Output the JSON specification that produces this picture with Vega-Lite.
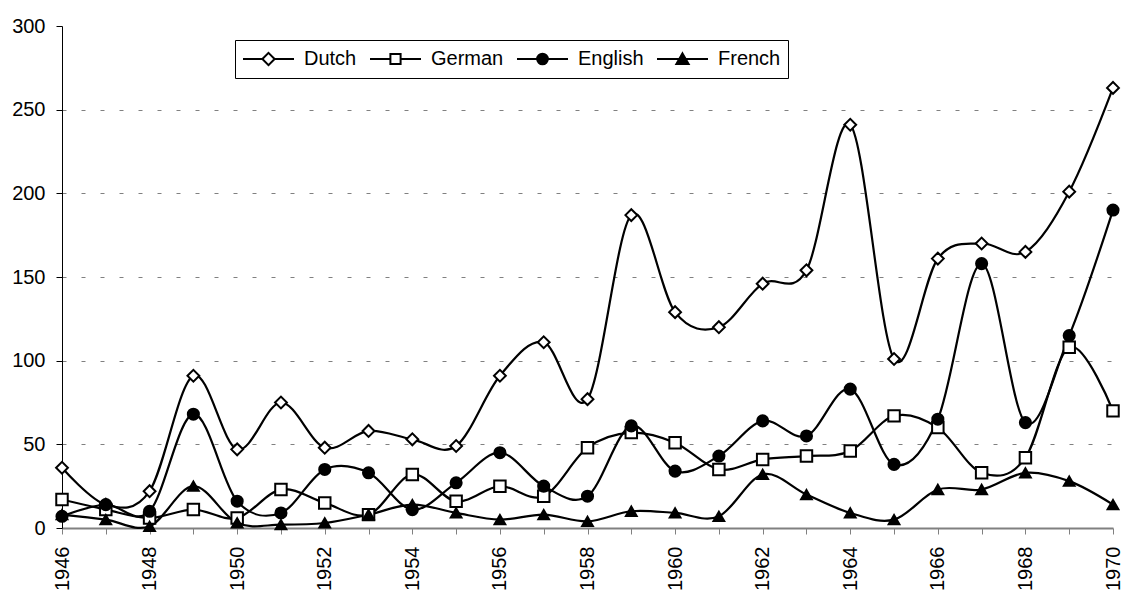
{
  "$schema": "https://vega.github.io/schema/vega-lite/v6.json",
  "autosize": {"type": "none"},
  "padding": {"left": 62, "top": 26, "right": 10, "bottom": 65},
  "width": 1051,
  "height": 502,
  "background": "white",
  "config": {
    "view": {"stroke": null},
    "font": "Liberation Sans",
    "legend": {
      "orient": "none",
      "legendX": 173,
      "legendY": 14,
      "direction": "horizontal",
      "symbolSize": 2601,
      "symbolStrokeWidth": 2,
      "clipHeight": 24,
      "labelFont": "Liberation Sans",
      "labelFontSize": 20,
      "labelColor": "black",
      "labelOffset": 9,
      "columnPadding": 12,
      "padding": 7,
      "strokeColor": "black",
      "fillColor": "white"
    }
  },
  "data": {
    "values": [
      {"Year": 1946, "Language": "Dutch", "Count": 36},
      {"Year": 1947, "Language": "Dutch", "Count": 14},
      {"Year": 1948, "Language": "Dutch", "Count": 22},
      {"Year": 1949, "Language": "Dutch", "Count": 91},
      {"Year": 1950, "Language": "Dutch", "Count": 47},
      {"Year": 1951, "Language": "Dutch", "Count": 75},
      {"Year": 1952, "Language": "Dutch", "Count": 48},
      {"Year": 1953, "Language": "Dutch", "Count": 58},
      {"Year": 1954, "Language": "Dutch", "Count": 53},
      {"Year": 1955, "Language": "Dutch", "Count": 49},
      {"Year": 1956, "Language": "Dutch", "Count": 91},
      {"Year": 1957, "Language": "Dutch", "Count": 111},
      {"Year": 1958, "Language": "Dutch", "Count": 77},
      {"Year": 1959, "Language": "Dutch", "Count": 187},
      {"Year": 1960, "Language": "Dutch", "Count": 129},
      {"Year": 1961, "Language": "Dutch", "Count": 120},
      {"Year": 1962, "Language": "Dutch", "Count": 146},
      {"Year": 1963, "Language": "Dutch", "Count": 154},
      {"Year": 1964, "Language": "Dutch", "Count": 241},
      {"Year": 1965, "Language": "Dutch", "Count": 101},
      {"Year": 1966, "Language": "Dutch", "Count": 161},
      {"Year": 1967, "Language": "Dutch", "Count": 170},
      {"Year": 1968, "Language": "Dutch", "Count": 165},
      {"Year": 1969, "Language": "Dutch", "Count": 201},
      {"Year": 1970, "Language": "Dutch", "Count": 263},
      {"Year": 1946, "Language": "German", "Count": 17},
      {"Year": 1947, "Language": "German", "Count": 11},
      {"Year": 1948, "Language": "German", "Count": 6},
      {"Year": 1949, "Language": "German", "Count": 11},
      {"Year": 1950, "Language": "German", "Count": 6},
      {"Year": 1951, "Language": "German", "Count": 23},
      {"Year": 1952, "Language": "German", "Count": 15},
      {"Year": 1953, "Language": "German", "Count": 8},
      {"Year": 1954, "Language": "German", "Count": 32},
      {"Year": 1955, "Language": "German", "Count": 16},
      {"Year": 1956, "Language": "German", "Count": 25},
      {"Year": 1957, "Language": "German", "Count": 19},
      {"Year": 1958, "Language": "German", "Count": 48},
      {"Year": 1959, "Language": "German", "Count": 57},
      {"Year": 1960, "Language": "German", "Count": 51},
      {"Year": 1961, "Language": "German", "Count": 35},
      {"Year": 1962, "Language": "German", "Count": 41},
      {"Year": 1963, "Language": "German", "Count": 43},
      {"Year": 1964, "Language": "German", "Count": 46},
      {"Year": 1965, "Language": "German", "Count": 67},
      {"Year": 1966, "Language": "German", "Count": 60},
      {"Year": 1967, "Language": "German", "Count": 33},
      {"Year": 1968, "Language": "German", "Count": 42},
      {"Year": 1969, "Language": "German", "Count": 108},
      {"Year": 1970, "Language": "German", "Count": 70},
      {"Year": 1946, "Language": "English", "Count": 7},
      {"Year": 1947, "Language": "English", "Count": 14},
      {"Year": 1948, "Language": "English", "Count": 10},
      {"Year": 1949, "Language": "English", "Count": 68},
      {"Year": 1950, "Language": "English", "Count": 16},
      {"Year": 1951, "Language": "English", "Count": 9},
      {"Year": 1952, "Language": "English", "Count": 35},
      {"Year": 1953, "Language": "English", "Count": 33},
      {"Year": 1954, "Language": "English", "Count": 11},
      {"Year": 1955, "Language": "English", "Count": 27},
      {"Year": 1956, "Language": "English", "Count": 45},
      {"Year": 1957, "Language": "English", "Count": 25},
      {"Year": 1958, "Language": "English", "Count": 19},
      {"Year": 1959, "Language": "English", "Count": 61},
      {"Year": 1960, "Language": "English", "Count": 34},
      {"Year": 1961, "Language": "English", "Count": 43},
      {"Year": 1962, "Language": "English", "Count": 64},
      {"Year": 1963, "Language": "English", "Count": 55},
      {"Year": 1964, "Language": "English", "Count": 83},
      {"Year": 1965, "Language": "English", "Count": 38},
      {"Year": 1966, "Language": "English", "Count": 65},
      {"Year": 1967, "Language": "English", "Count": 158},
      {"Year": 1968, "Language": "English", "Count": 63},
      {"Year": 1969, "Language": "English", "Count": 115},
      {"Year": 1970, "Language": "English", "Count": 190},
      {"Year": 1946, "Language": "French", "Count": 8},
      {"Year": 1947, "Language": "French", "Count": 5},
      {"Year": 1948, "Language": "French", "Count": 1},
      {"Year": 1949, "Language": "French", "Count": 25},
      {"Year": 1950, "Language": "French", "Count": 3},
      {"Year": 1951, "Language": "French", "Count": 2},
      {"Year": 1952, "Language": "French", "Count": 3},
      {"Year": 1953, "Language": "French", "Count": 8},
      {"Year": 1954, "Language": "French", "Count": 14},
      {"Year": 1955, "Language": "French", "Count": 9},
      {"Year": 1956, "Language": "French", "Count": 5},
      {"Year": 1957, "Language": "French", "Count": 8},
      {"Year": 1958, "Language": "French", "Count": 4},
      {"Year": 1959, "Language": "French", "Count": 10},
      {"Year": 1960, "Language": "French", "Count": 9},
      {"Year": 1961, "Language": "French", "Count": 7},
      {"Year": 1962, "Language": "French", "Count": 32},
      {"Year": 1963, "Language": "French", "Count": 20},
      {"Year": 1964, "Language": "French", "Count": 9},
      {"Year": 1965, "Language": "French", "Count": 5},
      {"Year": 1966, "Language": "French", "Count": 23},
      {"Year": 1967, "Language": "French", "Count": 23},
      {"Year": 1968, "Language": "French", "Count": 33},
      {"Year": 1969, "Language": "French", "Count": 28},
      {"Year": 1970, "Language": "French", "Count": 14}
    ]
  },
  "encoding": {
    "x": {
      "field": "Year",
      "type": "quantitative",
      "scale": {"domain": [1946, 1970], "nice": false, "zero": false},
      "axis": {
        "title": null,
        "values": [1946,1947,1948,1949,1950,1951,1952,1953,1954,1955,1956,1957,1958,1959,1960,1961,1962,1963,1964,1965,1966,1967,1968,1969,1970],
        "format": "d",
        "labelExpr": "datum.value % 2 == 0 ? datum.label : ''",
        "labelAngle": 270,
        "labelFontSize": 20,
        "labelFont": "Liberation Sans",
        "labelColor": "black",
        "labelPadding": 12,
        "labelOverlap": false,
        "labelFlush": false,
        "grid": false,
        "domainColor": "#808080",
        "domainWidth": 2,
        "tickColor": "#808080",
        "tickWidth": 1,
        "tickSize": 6
      }
    },
    "y": {
      "field": "Count",
      "type": "quantitative",
      "scale": {"domain": [0, 300], "nice": false},
      "axis": {
        "title": null,
        "values": [0, 50, 100, 150, 200, 250, 300],
        "labelFontSize": 20,
        "labelFont": "Liberation Sans",
        "labelColor": "black",
        "labelPadding": 11,
        "domainColor": "black",
        "domainWidth": 1,
        "tickColor": "black",
        "tickSize": 6,
        "grid": true,
        "gridColor": "#808080",
        "gridDash": [4, 15],
        "gridWidth": 1,
        "gridOpacity": {"condition": {"test": "datum.value == 300 || datum.value == 0", "value": 0}, "value": 1}
      }
    }
  },
  "layer": [
    {
      "mark": {"type": "line", "interpolate": "cardinal", "color": "black", "strokeWidth": 2.2},
      "encoding": {
        "detail": {"field": "Language", "type": "nominal"}
      }
    },
    {
      "mark": {"type": "point", "filled": true, "stroke": "black", "strokeWidth": 2, "opacity": 1},
      "encoding": {
        "shape": {
          "field": "Language",
          "type": "nominal",
          "scale": {"domain": ["Dutch", "German", "English", "French"], "range": ["diamond", "square", "circle", "triangle-up"]},
          "legend": null
        },
        "fill": {
          "field": "Language",
          "type": "nominal",
          "scale": {"domain": ["Dutch", "German", "English", "French"], "range": ["white", "white", "black", "black"]},
          "legend": null
        },
        "size": {
          "field": "Language",
          "type": "ordinal",
          "scale": {"domain": ["Dutch", "German", "English", "French"], "range": [140, 115, 120, 140]},
          "legend": null
        }
      }
    },
    {
      "transform": [{"filter": "datum.Count < 0"}],
      "mark": {"type": "point", "filled": true, "strokeWidth": 2, "opacity": 1},
      "encoding": {
        "shape": {
          "field": "Language",
          "type": "nominal",
          "scale": {
            "domain": ["Dutch", "German", "English", "French"],
            "range": [
              "M-1,0H-0.25M0.25,0H1M0,-0.24L0.24,0L0,0.24L-0.24,0Z",
              "M-1,0H-0.2M0.2,0H1M-0.2,-0.2H0.2V0.2H-0.2Z",
              "M-1,0H1M-0.21,0A0.21,0.21 0 1,0 0.21,0A0.21,0.21 0 1,0 -0.21,0Z",
              "M-1,0H1M0,-0.22L0.24,0.2L-0.24,0.2Z"
            ]
          },
          "legend": {"title": null}
        },
        "fill": {
          "field": "Language",
          "type": "nominal",
          "scale": {"domain": ["Dutch", "German", "English", "French"], "range": ["white", "white", "black", "black"]},
          "legend": {"title": null}
        },
        "stroke": {
          "field": "Language",
          "type": "nominal",
          "scale": {"domain": ["Dutch", "German", "English", "French"], "range": ["black", "black", "black", "black"]},
          "legend": {"title": null}
        }
      }
    }
  ],
  "resolve": {"scale": {"shape": "independent", "fill": "independent", "size": "independent", "stroke": "independent"}}
}
